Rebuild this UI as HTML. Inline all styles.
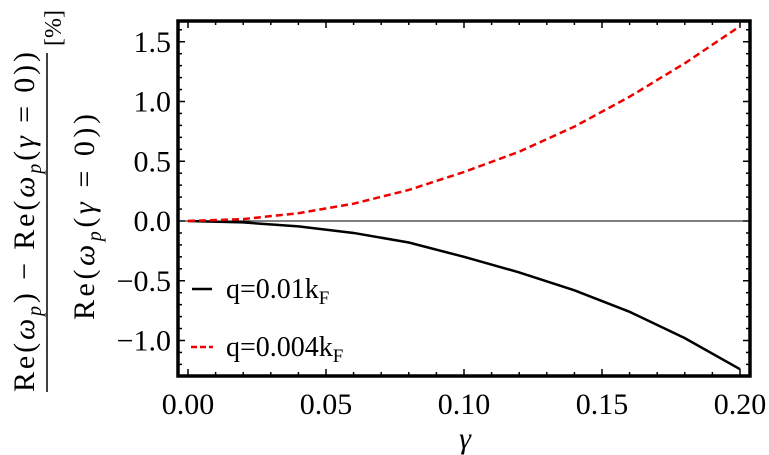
<!DOCTYPE html>
<html><head><meta charset="utf-8"><style>
body{margin:0;background:#fff;}
svg{display:block;font-family:"Liberation Serif",serif;}
</style></head><body>
<svg id="chart" width="769" height="455" viewBox="0 0 769 455">
<g id="ylabel">
  <text x="0" y="0" transform="translate(34,392) rotate(-90)" font-size="30" textLength="340" lengthAdjust="spacing">Re(<tspan font-style="italic">ω<tspan font-size="20" dy="7">p</tspan></tspan><tspan dy="-7">) − Re(</tspan><tspan font-style="italic">ω<tspan font-size="20" dy="7">p</tspan></tspan><tspan dy="-7">(</tspan><tspan font-style="italic">γ</tspan> = 0))</text>
  <line x1="47" y1="392" x2="47" y2="53" stroke="#000" stroke-width="1.5"/>
  <text x="0" y="0" transform="translate(94,320) rotate(-90)" font-size="30" textLength="206" lengthAdjust="spacing">Re(<tspan font-style="italic">ω<tspan font-size="20" dy="7">p</tspan></tspan><tspan dy="-7">(</tspan><tspan font-style="italic">γ</tspan> = 0))</text>
  <text x="0" y="0" transform="translate(61,46) rotate(-90)" font-size="24">[%]</text>
</g>
<g id="plot"></g>
</svg>
<script>
const gammas=[0,0.02,0.04,0.06,0.08,0.10,0.12,0.14,0.16,0.18,0.20];
const seriesBlack=[0,-0.012,-0.045,-0.10,-0.18,-0.30,-0.43,-0.58,-0.76,-0.98,-1.24];
const seriesRed=[0,0.016,0.065,0.145,0.26,0.41,0.58,0.79,1.04,1.32,1.63];
const xTicks=[0,0.05,0.10,0.15,0.20];
const xTickLabels=["0.00","0.05","0.10","0.15","0.20"];
const yTicks=[-1.0,-0.5,0,0.5,1.0,1.5];
const yTickLabels=["\u22121.0","\u22120.5","0.0","0.5","1.0","1.5"];
const ns="http://www.w3.org/2000/svg";
const X=v=>188+v/0.2*552;
const Y=v=>221-v*119.5;
const g=document.getElementById('plot');
function mk(t,a){const e=document.createElementNS(ns,t);for(const k in a)e.setAttribute(k,a[k]);g.appendChild(e);return e;}
let z=mk('line',{x1:178,x2:750,y1:Y(0),y2:Y(0),stroke:'#000','stroke-width':1});


for(let i=0;i<=20;i++){const v=i*0.01;const big=i%5===0;const l=big?7:4;
 let t=mk('line',{x1:X(v),x2:X(v),y1:376,y2:376-l,stroke:'#000','stroke-width':1.5});
 
 
 let t2=mk('line',{x1:X(v),x2:X(v),y1:21,y2:21+l,stroke:'#000','stroke-width':1.5});
 
 }
for(let i=-13;i<=16;i++){const v=i*0.1;const big=i%5===0;const l=big?7:4;
 let t=mk('line',{x1:178,x2:178+l,y1:Y(v),y2:Y(v),stroke:'#000','stroke-width':1.5});
 
 
 let t2=mk('line',{x1:750,x2:750-l,y1:Y(v),y2:Y(v),stroke:'#000','stroke-width':1.5});
 
 }
xTicks.forEach((v,i)=>{let t=mk('text',{x:X(v),y:414,'font-size':30,'text-anchor':'middle'});t.textContent=xTickLabels[i];
 
 });
yTicks.forEach((v,i)=>{let t=mk('text',{x:171,y:Y(v)+10,'font-size':30,'text-anchor':'end'});t.textContent=yTickLabels[i];
 
 });
let xt=mk('text',{x:465,y:448,'font-size':30,'font-style':'italic','text-anchor':'middle'});xt.textContent='γ';


const pts=s=>gammas.map((v,i)=>X(v)+','+Y(s[i])).join(' ');
let pb=mk('polyline',{points:pts(seriesBlack),fill:'none',stroke:'#000','stroke-width':2.5});


let pr=mk('polyline',{points:pts(seriesRed),fill:'none',stroke:'#e00','stroke-width':2.5,'stroke-dasharray':'7,4'});


let fr=mk('rect',{x:178,y:21,width:572,height:355,fill:'none',stroke:'#000','stroke-width':3.5});


let l1=mk('line',{x1:192,x2:212,y1:289,y2:289,stroke:'#000','stroke-width':2.5});


let t1=mk('text',{x:226,y:298,'font-size':28});t1.innerHTML='q=0.01k<tspan font-size="19" dy="6">F</tspan>';


let l2=mk('line',{x1:191,x2:213,y1:347,y2:347,stroke:'#e00','stroke-width':2.5,'stroke-dasharray':'6,3'});


let t2=mk('text',{x:226,y:356,'font-size':28});t2.innerHTML='q=0.004k<tspan font-size="19" dy="6">F</tspan>';


</script>
</body></html>
